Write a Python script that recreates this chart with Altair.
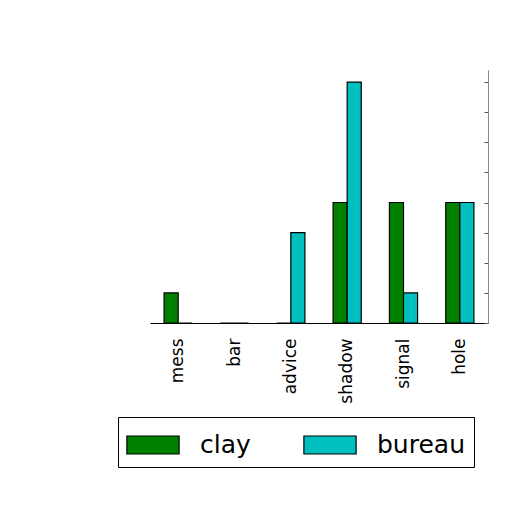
import altair as alt
import pandas as pd

categories = ["mess", "bar", "advice", "shadow", "signal", "hole"]
clay = [1, 0, 0, 4, 4, 4]
bureau = [0, 0, 3, 8, 1, 4]
series = ["clay", "bureau"]
colors = ["#008000", "#00bfbf"]

rows = []
for c, a, b in zip(categories, clay, bureau):
    rows.append({"cat": c, "series": "clay", "value": a})
    rows.append({"cat": c, "series": "bureau", "value": b})
df = pd.DataFrame(rows)

sym = "M-1.45,-0.5H1.45V0.5H-1.45Z"

chart = alt.Chart(df).mark_bar(stroke="black", strokeWidth=1.2).encode(
    x=alt.X("cat:N", sort=categories, title=None,
            scale=alt.Scale(paddingInner=0.5, paddingOuter=0.25),
            axis=alt.Axis(labelAngle=270, labelFontSize=17, labelColor="black",
                          ticks=False, labelPadding=15, domainColor="black",
                          labelFont="DejaVu Sans")),
    xOffset=alt.XOffset("series:N", sort=series),
    y=alt.Y("value:Q", title=None, scale=alt.Scale(domain=[0, 8.4], nice=False),
            axis=alt.Axis(orient="left", offset=-338, labels=False, grid=False,
                          values=[0, 1, 2, 3, 4, 5, 6, 7, 8], tickSize=4,
                          tickColor="#555", domainColor="#888")),
    color=alt.Color("series:N", sort=series,
                    scale=alt.Scale(domain=series, range=colors),
                    legend=alt.Legend(title=None, orient="none", legendX=-32, legendY=347,
                                      direction="horizontal", columns=2,
                                      symbolType=sym, symbolSize=1296, symbolOffset=7,
                                      symbolStrokeColor="black", symbolStrokeWidth=1.2,
                                      labelFontSize=25, labelFont="DejaVu Sans",
                                      labelColor="black", labelOffset=28,
                                      columnPadding=50, padding=9,
                                      strokeColor="black", fillColor="white")),
).properties(
    width=338, height=253,
    padding={"left": 142, "top": 62, "right": 8, "bottom": 181},
    autosize="none",
).configure_view(stroke=None)

chart.save("out.html", embed_options={"renderer": "svg", "actions": False})
